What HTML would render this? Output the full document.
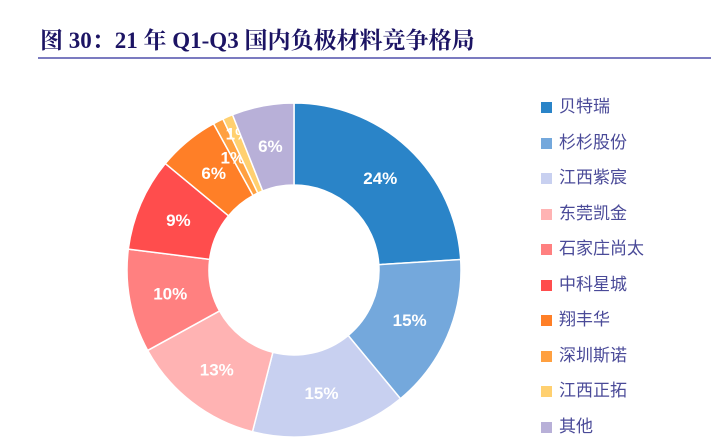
<!DOCTYPE html>
<html><head><meta charset="utf-8">
<style>
body{margin:0;background:#fff;width:711px;height:446px;overflow:hidden;position:relative;font-family:"Liberation Sans","Noto Sans CJK SC",sans-serif;}
#title{position:absolute;left:40px;top:22px;font-family:"Liberation Serif","Noto Serif CJK SC",serif;font-weight:bold;font-size:23px;color:#1c1464;white-space:nowrap;}
#rule{position:absolute;left:38px;top:57px;width:673px;height:2px;background:#7b7bc0;}
.leg{position:absolute;left:541px;font-size:17px;color:#4a4a98;white-space:nowrap;line-height:20px;}
.leg i{display:inline-block;width:11px;height:11px;margin-right:7px;vertical-align:-1px;}
</style></head><body>
<div id="title">图 30：21 年 Q1-Q3 国内负极材料竞争格局</div>
<div id="rule"></div>
<svg id="chart" width="711" height="446" style="position:absolute;left:0;top:0"></svg>
<div id="legend"></div>
<script>
const categories=["贝特瑞","杉杉股份","江西紫宸","东莞凯金","石家庄尚太","中科星城","翔丰华","深圳斯诺","江西正拓","其他"];
const values=[24,15,15,13,10,9,6,1,1,6];
const labels=["24%","15%","15%","13%","10%","9%","6%","1%","1%","6%"];
const colors=["#2a84c8","#74a8dc","#c8d0f0","#ffb3b3","#ff8080","#ff4d4d","#ff7f27","#ffa040","#ffd070","#b8b0d8"];
const cx=294,cy=270,R=167,r=85;
const svg=document.getElementById('chart');
const NS="http://www.w3.org/2000/svg";
const total=values.reduce((a,b)=>a+b,0);
let cum=0;
function pt(rad,a){return [cx+rad*Math.cos(a),cy+rad*Math.sin(a)];}
values.forEach((v,i)=>{
  const a0=-Math.PI/2+cum/total*2*Math.PI;
  cum+=v;
  const a1=-Math.PI/2+cum/total*2*Math.PI;
  const large=(a1-a0)>Math.PI?1:0;
  const p0=pt(R,a0),p1=pt(R,a1),q1=pt(r,a1),q0=pt(r,a0);
  const p=document.createElementNS(NS,'path');
  p.setAttribute('d',`M${p0[0]},${p0[1]}A${R},${R} 0 ${large} 1 ${p1[0]},${p1[1]}L${q1[0]},${q1[1]}A${r},${r} 0 ${large} 0 ${q0[0]},${q0[1]}Z`);
  p.setAttribute('fill',colors[i]);p.setAttribute('stroke','#fff');p.setAttribute('stroke-width','1.5');
  
  
  svg.appendChild(p);
  const am=(a0+a1)/2;let lp=pt(126,am);
  if(i===8){lp=[lp[0]-6,lp[1]-21];}
  if(i===7){lp=[lp[0]-4,lp[1]];}
  const t=document.createElementNS(NS,'text');
  t.setAttribute('x',lp[0]);t.setAttribute('y',lp[1]+6);t.setAttribute('text-anchor','middle');
  t.setAttribute('fill','#fff');t.setAttribute('font-size','17');t.setAttribute('font-weight','bold');
  t.setAttribute('font-family','Liberation Sans, sans-serif');
  t.textContent=labels[i];
  
  
  svg.appendChild(t);
});
const leg=document.getElementById('legend');
categories.forEach((c,i)=>{
  const d=document.createElement('div');d.className='leg';
  d.style.top=(97+i*35.5)+'px';
  d.innerHTML='<i style="background:'+colors[i]+'"></i>'+c;
  
  
  leg.appendChild(d);
});
</script>
</body></html>
